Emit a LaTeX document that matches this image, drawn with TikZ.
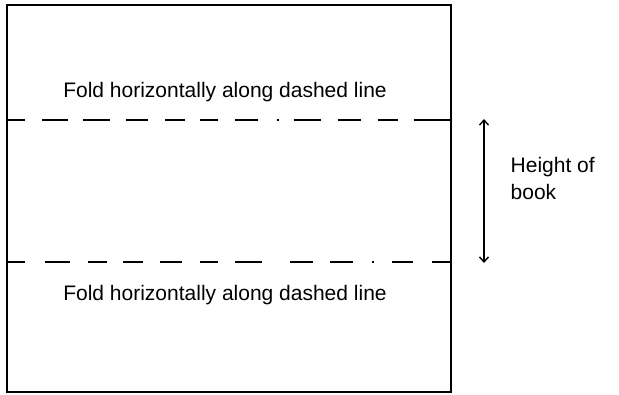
\documentclass[tikz,border=0pt]{standalone}
\usepackage{fontspec}
\setmainfont{Liberation Sans}
\usepackage{tikz}
\usetikzlibrary{arrows.meta, positioning}

\begin{document}
\begin{tikzpicture}[x=1pt, y=-1pt, line width=1.4pt,
  foldlabel/.style={font=\fontsize{21}{27}\selectfont, inner sep=0pt, anchor=base},
  sidelabel/.style={font=\fontsize{21}{27}\selectfont, inner sep=0pt, align=left, anchor=north west},
  foldline/.style={line width=1.4pt},
  heightarrow/.style={line width=1.4pt, {Straight Barb[length=5pt, width=9pt]}-{Straight Barb[length=5pt, width=9pt]}}]
  \useasboundingbox (0,0) rectangle (619,394);

  % Sheet
  \coordinate (sheetnw) at (7,5);
  \coordinate (sheetse) at (451,392);
  \draw (sheetnw) rectangle (sheetse);

  % Fold lines
  \draw[foldline, dash pattern=on 18pt off 17pt on 26pt off 15pt on 27pt off 16pt on 22pt off 17pt on 20pt off 15pt on 18pt off 17pt on 23pt off 19pt on 1.5pt off 15pt on 27pt off 17pt on 23pt off 17pt on 20pt off 16pt on 39pt]
    (7,120) -- (451,120);
  \draw[foldline, dash pattern=on 18pt off 20pt on 25pt off 18pt on 19pt off 16pt on 20pt off 17pt on 22pt off 18pt on 18pt off 17pt on 27pt off 28pt on 23pt off 17pt on 23pt off 19pt on 1.5pt off 18.5pt on 21pt off 19pt on 20pt]
    (7,262) -- (451,262);

  % Labels
  \node[foldlabel] (foldtop) at (225,97) {Fold horizontally along dashed line};
  \node[foldlabel] (foldbot) at (225,300) {Fold horizontally along dashed line};

  % Height of book
  \coordinate (arrtop) at (484,119);
  \coordinate (arrbot) at (484,263);
  \draw[heightarrow] (arrtop) -- (arrbot);
  \node[sidelabel] (height) at (510,156.5) {Height of\\book};
\end{tikzpicture}
\end{document}
